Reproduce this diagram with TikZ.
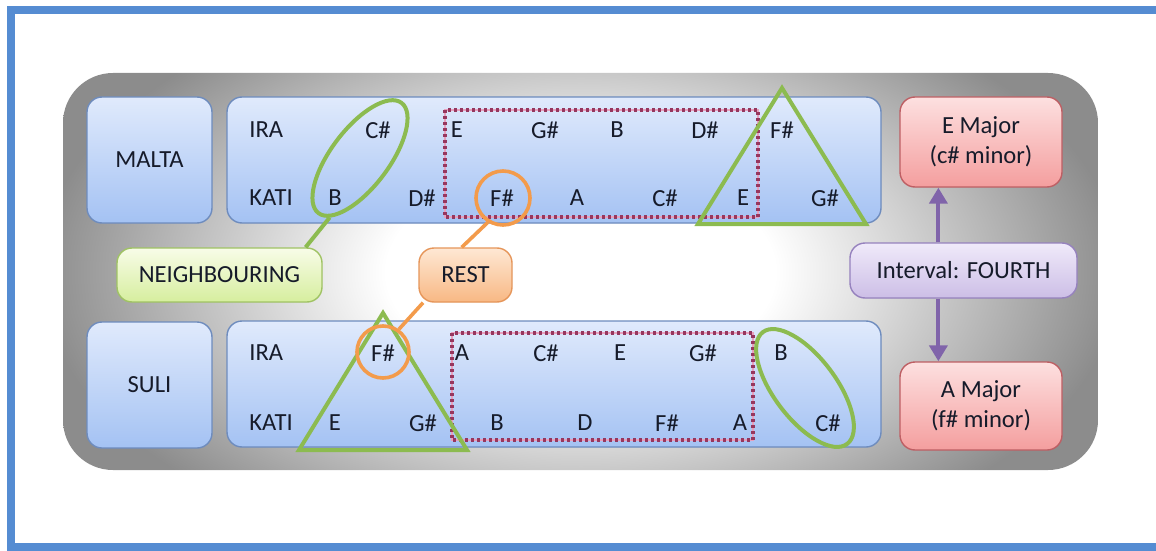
\documentclass[tikz,border=0pt]{standalone}
\usepackage{fontspec}
\setmainfont{Carlito}
\usetikzlibrary{shapes.geometric,arrows.meta,calc,shadows}
\definecolor{bggray}{RGB}{140,140,140}
\definecolor{txt}{RGB}{22,27,42}
\definecolor{frame}{RGB}{85,140,210}
\definecolor{blueT}{RGB}{224,234,252}
\definecolor{blueB}{RGB}{164,194,243}
\definecolor{blueD}{RGB}{110,140,190}
\definecolor{redT}{RGB}{253,224,224}
\definecolor{redB}{RGB}{244,158,158}
\definecolor{redD}{RGB}{190,95,100}
\definecolor{purT}{RGB}{240,234,250}
\definecolor{purB}{RGB}{204,190,230}
\definecolor{purD}{RGB}{150,130,190}
\definecolor{grT}{RGB}{248,252,232}
\definecolor{grB}{RGB}{214,238,158}
\definecolor{grD}{RGB}{160,195,100}
\definecolor{orT}{RGB}{254,232,212}
\definecolor{orB}{RGB}{248,184,132}
\definecolor{orD}{RGB}{230,150,90}
\definecolor{gline}{RGB}{140,187,80}
\definecolor{oline}{RGB}{243,155,75}
\definecolor{pline}{RGB}{128,100,170}
\definecolor{dotc}{RGB}{150,55,95}
\definecolor{dotp}{RGB}{232,160,190}
\pgfdeclareradialshading{bgshade}{\pgfpoint{0bp}{0bp}}{color(0bp)=(white); color(9bp)=(white); color(25bp)=(bggray); color(50bp)=(bggray)}
\tikzset{
  box/.style={draw, rounded corners=7.5pt, line width=0.7pt, inner sep=0pt, align=center, text=txt,
    general shadow={xshift=0.8pt, yshift=-0.9pt, fill=black, opacity=0.25}},
  bluebox/.style={box, draw=blueD, top color=blueT, bottom color=blueB},
  redbox/.style={box, draw=redD, top color=redT, bottom color=redB},
  purbox/.style={box, draw=purD, top color=purT, bottom color=purB},
  grbox/.style={box, draw=grD, top color=grT, bottom color=grB},
  orbox/.style={box, draw=orD, top color=orT, bottom color=orB},
  note/.style={text=txt, inner sep=0pt},
  gshape/.style={draw=gline, line width=2pt},
  oshape/.style={draw=oline, line width=1.8pt},
  dotbox/.style={draw=dotc, line width=1.7pt, dash pattern=on 1.5pt off 1.5pt,
    preaction={draw=dotp, line width=1.4pt, solid}},
  parrow/.style={draw=pline, line width=2pt, -{Triangle[width=9pt,length=8pt]}}
}
\begin{document}
\begin{tikzpicture}[x=0.5pt,y=-0.5pt,font=\fontsize{12.3}{15}\selectfont]
\useasboundingbox (0,0) rectangle (1156,551);
% outer frame
\draw[frame, line width=4pt] (11,10.5) rectangle (1160,547);
% gray container
\begin{scope}
  \clip[rounded corners=25pt] (63,73) rectangle (1098,470);
  \shade[shading=bgshade] (40,-28) rectangle (1121,572);
\end{scope}
% boxes
\node[bluebox, minimum width=62.5pt, minimum height=63pt] (malta) at (149.5,160) {MALTA};
\node[bluebox, minimum width=62.5pt, minimum height=63pt] (suli) at (149.5,385) {SULI};
\node[bluebox, minimum width=327pt, minimum height=63pt] (mrow) at (554,160) {};
\node[bluebox, minimum width=327pt, minimum height=63pt] (srow) at (554,384) {};
\node[grbox, minimum width=102.5pt, minimum height=27pt] (neigh) at (219.5,275) {NEIGHBOURING};
\node[orbox, minimum width=46.5pt, minimum height=27pt] (rest) at (465.5,275) {REST};
\node[purbox, minimum width=113.5pt, minimum height=27.5pt] (intv) at (963.5,270.5) {Interval: FOURTH};
\node[redbox, minimum width=81pt, minimum height=45pt] (emaj) at (981,142) {E Major\\(c\# minor)};
\node[redbox, minimum width=81pt, minimum height=44pt] (amaj) at (981,406) {A Major\\(f\# minor)};
% row labels
\node[note, anchor=west] (mira) at (249,130) {IRA};
\node[note, anchor=west] (mkati) at (249,198) {KATI};
\node[note, anchor=west] (sira) at (249,353) {IRA};
\node[note, anchor=west] (skati) at (249,423) {KATI};
% notes
\foreach \t/\x [count=\i] in {C\#/378, E/457, G\#/545, B/617, D\#/705, F\#/782}
  \node[note] (mi\i) at (\x,130) {\t};
\foreach \t/\x [count=\i] in {B/335, D\#/422, F\#/502, A/577, C\#/665, E/743, G\#/825}
  \node[note] (mk\i) at (\x,198) {\t};
\foreach \t/\x [count=\i] in {F\#/383, A/462, C\#/546, E/620, G\#/703, B/781}
  \node[note] (si\i) at (\x,353) {\t};
\foreach \t/\x [count=\i] in {E/335, G\#/423, B/497, D/585, F\#/667, A/740, C\#/828}
  \node[note] (sk\i) at (\x,423) {\t};
% dotted groups
\draw[dotbox] (445,110) rectangle (758,217);
\draw[dotbox] (452,333) rectangle (753,440);
% triangles
\draw[gshape] (782,88) -- (866,224) -- (698,224) -- cycle;
\draw[gshape] (383,313) -- (467,450) -- (299,450) -- cycle;
% ellipses
\node[gshape, ellipse, inner sep=0pt, minimum width=69pt, minimum height=29pt, rotate=53] (ell1) at (360,158) {};
\node[gshape, ellipse, inner sep=0pt, minimum width=70pt, minimum height=31pt, rotate=-53] (ell2) at (805,388) {};
% circles
\node[oshape, circle, inner sep=0pt, minimum size=27pt] (c1) at (503,198) {};
\node[oshape, circle, inner sep=0pt, minimum size=26pt] (c2) at (383,352) {};
% connectors
\draw[gshape] (ell1.190) -- ($(neigh.north west)!0.917!(neigh.north east)$);
\draw[oshape] (c1.238) -- ($(rest.north west)!0.46!(rest.north east)$);
\draw[oshape] ($(rest.south west)!0.05!(rest.south east)$) -- (c2.55);
\coordinate (a1) at ($(intv.north west)!0.39!(intv.north east)$);
\coordinate (a2) at ($(intv.south west)!0.39!(intv.south east)$);
\draw[parrow] (a1) -- (a1 |- emaj.south);
\draw[parrow] (a2) -- (a2 |- amaj.north);
\end{tikzpicture}
\end{document}
